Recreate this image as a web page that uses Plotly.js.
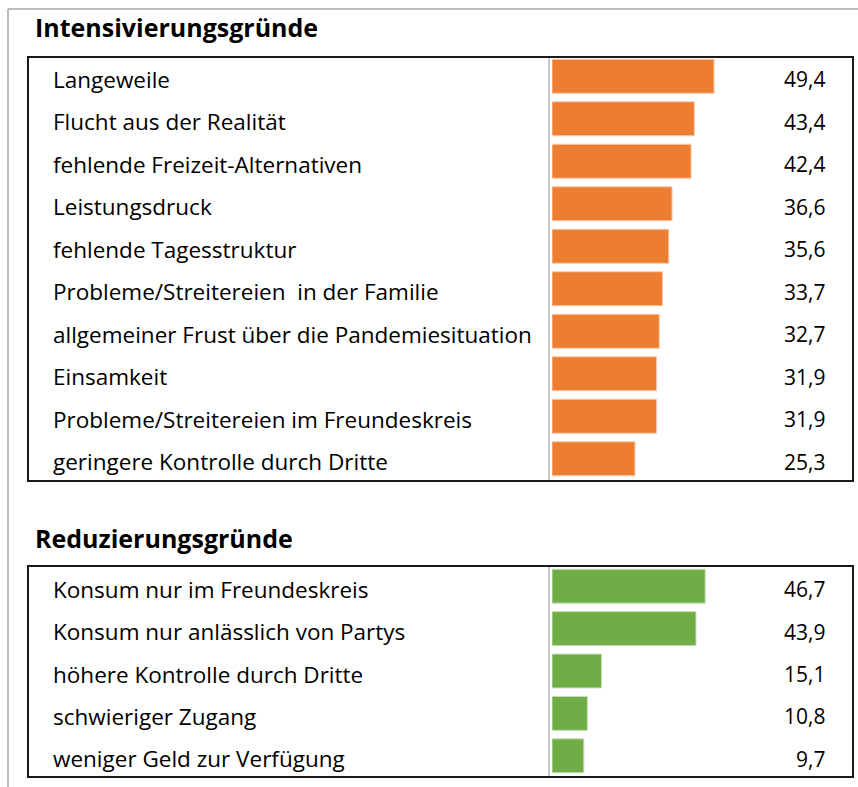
<!DOCTYPE html>
<html>
<head>
<meta charset="utf-8">
<script src="https://cdn.plot.ly/plotly-3.0.1.min.js"></script>
<style>html,body{margin:0;padding:0;background:#fff;}#chart{width:858px;height:787px;}</style>
</head>
<body>
<div id="chart"></div>
<script>
const titleTop = "Intensivierungsgründe";
const titleBottom = "Reduzierungsgründe";
const catsTop = [
  "Langeweile",
  "Flucht aus der Realität",
  "fehlende Freizeit-Alternativen",
  "Leistungsdruck",
  "fehlende Tagesstruktur",
  "Probleme/Streitereien  in der Familie",
  "allgemeiner Frust über die Pandemiesituation",
  "Einsamkeit",
  "Probleme/Streitereien im Freundeskreis",
  "geringere Kontrolle durch Dritte"
];
const valsTop = [49.4, 43.4, 42.4, 36.6, 35.6, 33.7, 32.7, 31.9, 31.9, 25.3];
const catsBottom = [
  "Konsum nur im Freundeskreis",
  "Konsum nur anlässlich von Partys",
  "höhere Kontrolle durch Dritte",
  "schwieriger Zugang",
  "weniger Geld zur Verfügung"
];
const valsBottom = [46.7, 43.9, 15.1, 10.8, 9.7];

const W = 858, H = 787;
const px = v => v / W;
const py = v => 1 - v / H;
const FONT = "'Open Sans', 'Noto Sans', sans-serif";
const fmt = v => v.toFixed(1).replace('.', ',');

const trTop = {
  type: 'bar', orientation: 'h', x: valsTop, y: catsTop,
  xaxis: 'x', yaxis: 'y', width: 0.8,
  marker: {color: '#ED7D31', line: {color: '#F8CBAD', width: 1}},
  hoverinfo: 'none'
};
const trBottom = {
  type: 'bar', orientation: 'h', x: valsBottom, y: catsBottom,
  xaxis: 'x2', yaxis: 'y2', width: 0.8,
  marker: {color: '#70AD47', line: {color: '#C5E0B4', width: 1}},
  hoverinfo: 'none'
};

const xr = [0, (853 - 552) / 3.28];
const ann = [];
ann.push({xref: 'paper', yref: 'paper', x: px(33), y: py(39), xanchor: 'left', yanchor: 'bottom',
  text: '<b>' + titleTop + '</b>', showarrow: false, font: {family: FONT, size: 25, color: '#000'}, yshift: -7});
ann.push({xref: 'paper', yref: 'paper', x: px(33), y: py(550), xanchor: 'left', yanchor: 'bottom',
  text: '<b>' + titleBottom + '</b>', showarrow: false, font: {family: FONT, size: 25, color: '#000'}, yshift: -7});
catsTop.forEach((c, i) => {
  ann.push({xref: 'paper', yref: 'y', x: px(51), y: c, xanchor: 'left', yanchor: 'middle', text: c,
    showarrow: false, font: {family: FONT, size: 22.5, color: '#000'}, yshift: -3});
  ann.push({xref: 'paper', yref: 'y', x: px(827), y: c, xanchor: 'right', yanchor: 'middle', text: fmt(valsTop[i]),
    showarrow: false, font: {family: FONT, size: 21, color: '#000'}, yshift: -3});
});
catsBottom.forEach((c, i) => {
  ann.push({xref: 'paper', yref: 'y2', x: px(51), y: c, xanchor: 'left', yanchor: 'middle', text: c,
    showarrow: false, font: {family: FONT, size: 22.5, color: '#000'}, yshift: -3});
  ann.push({xref: 'paper', yref: 'y2', x: px(827), y: c, xanchor: 'right', yanchor: 'middle', text: fmt(valsBottom[i]),
    showarrow: false, font: {family: FONT, size: 21, color: '#000'}, yshift: -3});
});

const shapes = [
  {type: 'line', xref: 'paper', yref: 'paper', x0: px(8), x1: 1, y0: py(9), y1: py(9), line: {color: '#A6A6A6', width: 1.5}},
  {type: 'line', xref: 'paper', yref: 'paper', x0: px(8), x1: px(8), y0: py(9), y1: 0, line: {color: '#A6A6A6', width: 1.5}},
  {type: 'rect', xref: 'paper', yref: 'paper', x0: px(28), x1: px(853), y0: py(57), y1: py(481), line: {color: '#1a1a1a', width: 2}},
  {type: 'rect', xref: 'paper', yref: 'paper', x0: px(28), x1: px(853), y0: py(566), y1: py(777), line: {color: '#1a1a1a', width: 2}},
  {type: 'line', xref: 'paper', yref: 'paper', x0: px(549), x1: px(549), y0: py(58), y1: py(480), line: {color: '#C8C8C8', width: 2}},
  {type: 'line', xref: 'paper', yref: 'paper', x0: px(549), x1: px(549), y0: py(567), y1: py(776), line: {color: '#C8C8C8', width: 2}}
];

const axX = {range: xr, showgrid: false, zeroline: false, showticklabels: false, showline: false, fixedrange: true};
const axY = {type: 'category', autorange: 'reversed', showgrid: false, zeroline: false, showticklabels: false, showline: false, ticks: ''};

const layout = {
  width: W, height: H,
  margin: {l: 0, r: 0, t: 0, b: 0},
  paper_bgcolor: '#fff', plot_bgcolor: 'rgba(0,0,0,0)',
  showlegend: false,
  xaxis: Object.assign({}, axX, {domain: [px(552), px(853)], anchor: 'y'}),
  yaxis: Object.assign({}, axY, {domain: [py(480), py(55)], anchor: 'x'}),
  xaxis2: Object.assign({}, axX, {domain: [px(552), px(853)], anchor: 'y2'}),
  yaxis2: Object.assign({}, axY, {domain: [py(777), py(565)], anchor: 'x2'}),
  annotations: ann,
  shapes: shapes
};

Plotly.newPlot('chart', [trTop, trBottom], layout, {displayModeBar: false, staticPlot: true});
</script>
</body>
</html>
